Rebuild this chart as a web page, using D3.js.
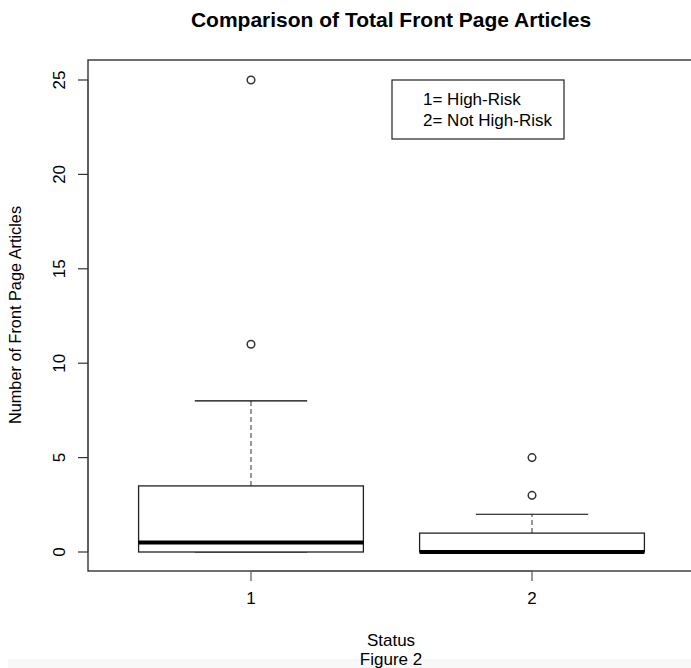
<!DOCTYPE html>
<html>
<head>
<meta charset="utf-8">
<script src="https://cdn.jsdelivr.net/npm/d3@7"></script>
<style>
  html, body { margin: 0; padding: 0; background: #fff; }
  svg { display: block; }
  text { font-family: "Liberation Sans", Arial, sans-serif; fill: #000; }
</style>
</head>
<body>
<svg id="chart" width="691" height="668"></svg>
<script>
// ---- data ----
const categories = ["1", "2"];
const lowerWhisker = [0, 0];
const q1 = [0, 0];
const medians = [0.5, 0];
const q3 = [3.5, 1];
const upperWhisker = [8, 2];
const outliers = [[11, 25], [3, 5]];
const yTicks = [0, 5, 10, 15, 20, 25];
const legendLines = ["1= High-Risk", "2= Not High-Risk"];

const svg = d3.select("#chart");
const W = 691, H = 668;

// bottom light band (screenshot background)
svg.append("rect").attr("x", 8).attr("y", 659).attr("width", W - 8).attr("height", H - 659).attr("fill", "#f8f8f8");

const plot = { left: 88, right: 695, top: 60, bottom: 571 };

const x = d3.scaleLinear().domain([0.42, 2.58]).range([plot.left, plot.right]);
const y = d3.scaleLinear().domain([0, 25]).range([552, 80]);

const boxHalf = 0.4, capHalf = 0.2;

// boxes
categories.forEach((c, i) => {
  const cx = +c;
  const g = svg.append("g");
  g.append("line").attr("x1", x(cx)).attr("x2", x(cx)).attr("y1", y(q3[i])).attr("y2", y(upperWhisker[i]))
    .attr("stroke", "#555").attr("stroke-width", 1.2).attr("stroke-dasharray", "5,3");
  g.append("line").attr("x1", x(cx)).attr("x2", x(cx)).attr("y1", y(q1[i])).attr("y2", y(lowerWhisker[i]))
    .attr("stroke", "#555").attr("stroke-width", 1.2).attr("stroke-dasharray", "5,3");
  g.append("line").attr("x1", x(cx - capHalf)).attr("x2", x(cx + capHalf)).attr("y1", y(upperWhisker[i])).attr("y2", y(upperWhisker[i]))
    .attr("stroke", "#000").attr("stroke-width", 1.2);
  g.append("line").attr("x1", x(cx - capHalf)).attr("x2", x(cx + capHalf)).attr("y1", y(lowerWhisker[i])).attr("y2", y(lowerWhisker[i]))
    .attr("stroke", "#000").attr("stroke-width", 1.2);
  g.append("rect").attr("x", x(cx - boxHalf)).attr("y", y(q3[i]))
    .attr("width", x(cx + boxHalf) - x(cx - boxHalf)).attr("height", y(q1[i]) - y(q3[i]))
    .attr("fill", "#fff").attr("stroke", "#222").attr("stroke-width", 1.3);
  g.append("line").attr("x1", x(cx - boxHalf)).attr("x2", x(cx + boxHalf)).attr("y1", y(medians[i])).attr("y2", y(medians[i]))
    .attr("stroke", "#000").attr("stroke-width", 4);
  outliers[i].forEach(v => {
    g.append("circle").attr("cx", x(cx)).attr("cy", y(v)).attr("r", 3.8)
      .attr("fill", "none").attr("stroke", "#333").attr("stroke-width", 1.5);
  });
});

// plot frame
svg.append("rect").attr("x", plot.left).attr("y", plot.top)
  .attr("width", plot.right - plot.left).attr("height", plot.bottom - plot.top)
  .attr("fill", "none").attr("stroke", "#222").attr("stroke-width", 1.3);

// y axis
const yAxis = svg.append("g");
yAxis.append("line").attr("x1", plot.left).attr("x2", plot.left).attr("y1", y(0)).attr("y2", y(25))
  .attr("stroke", "#555").attr("stroke-width", 1.2);
yTicks.forEach(t => {
  yAxis.append("line").attr("x1", plot.left - 10).attr("x2", plot.left).attr("y1", y(t)).attr("y2", y(t))
    .attr("stroke", "#333").attr("stroke-width", 1.2);
  yAxis.append("text").attr("transform", `translate(65,${y(t)}) rotate(-90)`)
    .attr("text-anchor", "middle").attr("font-size", 17).text(t);
});

// x axis
const xAxis = svg.append("g");
xAxis.append("line").attr("x1", x(1)).attr("x2", x(2)).attr("y1", plot.bottom).attr("y2", plot.bottom)
  .attr("stroke", "#555").attr("stroke-width", 1.2);
categories.forEach(c => {
  xAxis.append("line").attr("x1", x(+c)).attr("x2", x(+c)).attr("y1", plot.bottom).attr("y2", plot.bottom + 10)
    .attr("stroke", "#555").attr("stroke-width", 1.2);
  xAxis.append("text").attr("x", x(+c)).attr("y", 604).attr("text-anchor", "middle").attr("font-size", 17).text(c);
});

// title
svg.append("text").attr("x", 391).attr("y", 27).attr("text-anchor", "middle")
  .attr("font-size", 21).attr("font-weight", "bold").text("Comparison of Total Front Page Articles");

// y label
svg.append("text").attr("transform", "translate(21,315) rotate(-90)").attr("text-anchor", "middle")
  .attr("font-size", 16.3).text("Number of Front Page Articles");

// x label
svg.append("text").attr("x", 391).attr("y", 646).attr("text-anchor", "middle").attr("font-size", 17).text("Status");
svg.append("text").attr("x", 391).attr("y", 665).attr("text-anchor", "middle").attr("font-size", 17).text("Figure 2");

// legend
const lg = svg.append("g");
lg.append("rect").attr("x", 392).attr("y", 80).attr("width", 172).attr("height", 59)
  .attr("fill", "#fff").attr("stroke", "#222").attr("stroke-width", 1.2);
legendLines.forEach((t, i) => {
  lg.append("text").attr("x", 423).attr("y", 105 + i * 21).attr("font-size", 17).text(t);
});
</script>
</body>
</html>
